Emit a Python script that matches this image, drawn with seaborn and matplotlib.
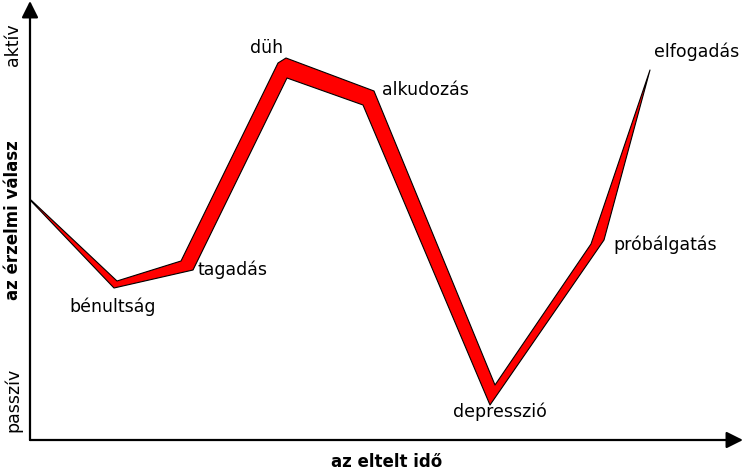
import matplotlib
matplotlib.use('Agg')
import matplotlib.pyplot as plt
import seaborn as sns

sns.set_theme(style='white')
plt.rcParams['font.family'] = ['DejaVu Sans']

# felso (bal) el: ido, erzelmi szint
upper_time = [1, 87, 151, 248, 256, 344, 465, 561, 620]
upper_level = [240, 159, 179, 377, 382, 349, 55, 196, 370]
# also (jobb) el
lower_time = [1, 84, 163, 257, 333, 460, 574, 620]
lower_level = [239, 152, 170, 362, 335, 35, 200, 370]

# szakaszok cimkei
stage_names = ['bénultság', 'tagadás', 'düh', 'alkudozás', 'depresszió', 'próbálgatás', 'elfogadás']
label_time = [83, 202, 237, 395, 470, 635, 667]
label_level = [133, 170, 392, 350, 28, 195, 388]

fig = plt.figure(figsize=(7.44, 4.71), dpi=100)
ax = fig.add_axes([30/744, 31/471, 713/744, 439/471])
ax.set_xlim(0, 713)
ax.set_ylim(0, 439)

band_x = upper_time + lower_time[::-1]
band_y = upper_level + lower_level[::-1]
ax.fill(band_x, band_y, facecolor='#ff0000', edgecolor='black', linewidth=0.8, joinstyle='round')

for name, t, lv in zip(stage_names, label_time, label_level):
    ax.text(t, lv, name, ha='center', va='center', fontsize=12.5, color='black')

# tengelyek nyillal
for s in ax.spines.values():
    s.set_visible(False)
ax.set_xticks([])
ax.set_yticks([])
arrow = dict(arrowstyle='-|>,head_length=0.4,head_width=0.2', mutation_scale=25,
             color='black', lw=1.6, shrinkA=0, shrinkB=0)
ax.annotate('', xy=(1, 0), xytext=(0, 0), xycoords='axes fraction', arrowprops=arrow)
ax.annotate('', xy=(0, 1), xytext=(0, 0), xycoords='axes fraction', arrowprops=arrow)

ax.set_xlabel('az eltelt idő', fontsize=12, fontweight='bold', labelpad=9.5, color='black')
ax.set_ylabel('az érzelmi válasz', fontsize=12, fontweight='bold', labelpad=6, color='black')

fig.text(13/744, 1 - 45/471, 'aktív', rotation=90, ha='center', va='center', fontsize=12.5, color='black')
fig.text(13/744, 1 - 400/471, 'passzív', rotation=90, ha='center', va='center', fontsize=12.5, color='black')

fig.savefig('out.png', dpi=100)
